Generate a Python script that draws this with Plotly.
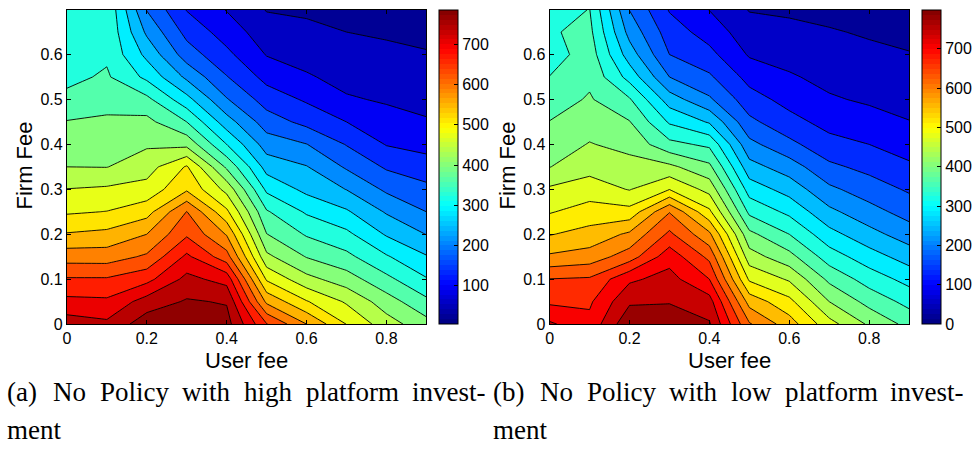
import plotly.graph_objects as go

# Grid of the fee space
user_fee = [0.0, 0.1, 0.2, 0.3, 0.4, 0.5, 0.6, 0.7, 0.8, 0.9]
firm_fee = [0.0, 0.05, 0.10, 0.15, 0.20, 0.25, 0.30, 0.35, 0.40, 0.45,
            0.50, 0.55, 0.60, 0.65, 0.70]

# (a) high platform investment: one list per user fee, values along the firm fee axis
high_investment = [
    [742, 694, 650, 591, 535, 489, 457, 418, 400, 382, 351, 333, 326, 320, 315],
    [730, 691, 650, 590, 542, 495, 462, 417, 401, 386, 367, 347, 336, 336, 337],
    [782, 739, 672, 614, 570, 517, 470, 439, 413, 391, 352, 295, 256, 221, 188],
    [785, 764, 733, 692, 640, 609, 526, 498, 407, 342, 279, 220, 171, 140, 112],
    [775, 757, 708, 624, 567, 502, 444, 373, 304, 245, 193, 154, 123, 97, 74],
    [648, 562, 489, 427, 381, 346, 296, 251, 210, 171, 135, 102, 74, 55, 36],
    [570, 497, 430, 378, 338, 299, 256, 230, 191, 141, 109, 80, 62, 47, 32],
    [493, 451, 398, 352, 313, 271, 227, 185, 150, 114, 80, 64, 51, 38, 25],
    [435, 398, 352, 308, 262, 224, 183, 147, 112, 90, 72, 59, 47, 33, 18],
    [394, 351, 307, 269, 227, 190, 162, 130, 102, 79, 66, 54, 42, 24, 5],
]

# (b) low platform investment
low_investment = [
    [728, 677, 647, 576, 530, 491, 462, 417, 399, 381, 362, 343, 322, 338, 325],
    [695, 678, 651, 587, 545, 511, 474, 443, 420, 402, 384, 372, 362, 352, 343],
    [790, 754, 715, 627, 577, 507, 454, 431, 407, 382, 346, 290, 247, 215, 189],
    [798, 756, 736, 707, 654, 606, 493, 427, 353, 299, 247, 190, 152, 133, 111],
    [764, 738, 684, 636, 578, 502, 443, 389, 334, 262, 196, 158, 125, 98, 75],
    [612, 555, 488, 435, 390, 333, 287, 242, 201, 161, 130, 101, 72, 54, 36],
    [550, 505, 451, 393, 342, 295, 251, 209, 162, 127, 101, 80, 63, 48, 32],
    [470, 418, 371, 323, 279, 237, 198, 160, 127, 101, 80, 66, 53, 41, 27],
    [412, 367, 325, 283, 241, 204, 171, 141, 114, 90, 71, 59, 46, 34, 20],
    [368, 330, 291, 249, 209, 175, 147, 120, 98, 77, 65, 53, 41, 22, 0],
]

# Justified two-line captions, one word at a time: (word, left edge in px)
caption_a = [
    [("(a)", 2.0), ("No", 48.2), ("Policy", 95.3), ("with", 178.4),
     ("high", 240.8), ("platform", 303.2), ("invest-", 409.7)],
    [("ment", 2.0)],
]
caption_b = [
    [("(b)", 491.0), ("No", 538.5), ("Policy", 585.3), ("with", 668.1),
     ("low", 730.2), ("platform", 784.7), ("invest-", 890.9)],
    [("ment", 491.0)],
]
colorbar_ticks_a = [100, 200, 300, 400, 500, 600, 700]
colorbar_ticks_b = [0, 100, 200, 300, 400, 500, 600, 700]

LEVEL_START, LEVEL_END, LEVEL_STEP = 38, 760, 38

W, H = 977, 451
SANS = "Liberation Sans, Arial, sans-serif"
SERIF = "Liberation Serif, Times New Roman, serif"


def clip01(v):
    return min(max(v, 0.0), 1.0)


def jet(t):
    t = clip01(t)
    r = clip01(1.5 - abs(4 * t - 3))
    g = clip01(1.5 - abs(4 * t - 2))
    b = clip01(1.5 - abs(4 * t - 1))
    return "rgb(%d,%d,%d)" % (round(255 * r), round(255 * g), round(255 * b))


def stepped_jet(n=64):
    scale = []
    for i in range(n):
        c = jet((i + 0.5) / n)
        scale.append([i / n, c])
        scale.append([(i + 1) / n, c])
    return scale


def band_scale(zmin, zmax):
    """One flat colour per filled band, taken from jet at the band centre."""
    levels = list(range(LEVEL_START, LEVEL_END + 1, LEVEL_STEP))
    edges = [zmin] + levels + [zmax]
    nb = len(edges) - 1
    scale = []
    for j in range(nb):
        mid = 0.5 * (edges[j] + edges[j + 1])
        scale.append([j / (nb - 1), jet((mid - zmin) / (zmax - zmin))])
    return scale


def px_x(p):
    return p / W


def px_y(p):
    return 1 - p / H


panels = [
    dict(z=high_investment, xdom=(63.3, 425.0), cbx=438.0, ticks=colorbar_ticks_a,
         cap=caption_a, ylab_x=21.0, xlab_x=244.0),
    dict(z=low_investment, xdom=(549.0, 910.7), cbx=924.0, ticks=colorbar_ticks_b,
         cap=caption_b, ylab_x=507.0, xlab_x=730.0),
]

y_top, y_bot = 9.8, 330.7

fig = go.Figure()
annotations = []
layout_axes = {}

for k, p in enumerate(panels):
    xa = "x" if k == 0 else "x2"
    ya = "y" if k == 0 else "y2"
    # rows follow firm fee, columns follow user fee
    z = [list(row) for row in zip(*p["z"])]
    flat = [v for row in z for v in row]
    zmin, zmax = min(flat), max(flat)

    fig.add_trace(go.Contour(
        x=user_fee, y=firm_fee, z=z,
        autocontour=False,
        contours=dict(start=LEVEL_START, end=LEVEL_END, size=LEVEL_STEP,
                      coloring="fill", showlines=True),
        line=dict(color="black", width=0.9, smoothing=0),
        colorscale=band_scale(zmin, zmax),
        showscale=False, hoverinfo="skip",
        xaxis=xa, yaxis=ya,
    ))

    fig.add_trace(go.Scatter(
        x=[None], y=[None], mode="markers", showlegend=False, hoverinfo="skip",
        marker=dict(
            color=[zmin], cmin=zmin, cmax=zmax, colorscale=stepped_jet(64),
            showscale=True,
            colorbar=dict(
                x=px_x(p["cbx"]), xanchor="left", xpad=0,
                y=px_y(y_bot), yanchor="bottom", ypad=0,
                len=(y_bot - y_top) / H, lenmode="fraction",
                thickness=19, thicknessmode="pixels",
                outlinewidth=1, outlinecolor="black", borderwidth=0,
                ticks="inside", ticklen=4, tickwidth=1, tickcolor="black",
                tickvals=p["ticks"],
                tickfont=dict(family=SANS, size=16, color="black"),
            ),
        ),
        xaxis=xa, yaxis=ya,
    ))

    axis_common = dict(
        showgrid=False, zeroline=False, showline=True, linecolor="black",
        linewidth=1, mirror="ticks", ticks="inside", ticklen=4, tickwidth=1,
        tickcolor="black", tickfont=dict(family=SANS, size=16, color="black"),
    )
    xkey = "xaxis" if k == 0 else "xaxis2"
    ykey = "yaxis" if k == 0 else "yaxis2"
    layout_axes[xkey] = dict(
        axis_common, domain=[px_x(p["xdom"][0]), px_x(p["xdom"][1])],
        range=[0, 0.9], tickvals=[0, 0.2, 0.4, 0.6, 0.8], anchor=ya,
    )
    layout_axes[ykey] = dict(
        axis_common, domain=[px_y(y_bot), px_y(y_top)],
        range=[0, 0.7], tickvals=[0, 0.1, 0.2, 0.3, 0.4, 0.5, 0.6], anchor=xa,
    )

    annotations.append(dict(
        text="Firm Fee", xref="paper", yref="paper",
        x=px_x(p["ylab_x"]), y=px_y(169), xanchor="center", yanchor="middle",
        textangle=-90, showarrow=False, borderpad=0,
        font=dict(family=SANS, size=22, color="black"),
    ))
    annotations.append(dict(
        text="User fee", xref="paper", yref="paper",
        x=px_x(p["xlab_x"]), y=px_y(368), xanchor="center", yanchor="middle",
        showarrow=False, borderpad=0,
        font=dict(family=SANS, size=22, color="black"),
    ))
    for words, ypx in zip(p["cap"], [400, 439]):
        for word, xpx in words:
            annotations.append(dict(
                text=word, xref="paper", yref="paper",
                x=px_x(xpx), y=px_y(ypx), xanchor="left", yanchor="middle",
                showarrow=False, borderpad=0,
                font=dict(family=SERIF, size=27, color="black"),
            ))

fig.update_layout(
    width=W, height=H, margin=dict(l=0, r=0, t=0, b=0),
    paper_bgcolor="white", plot_bgcolor="white",
    showlegend=False, annotations=annotations, **layout_axes,
)

fig.write_html("out.html")
